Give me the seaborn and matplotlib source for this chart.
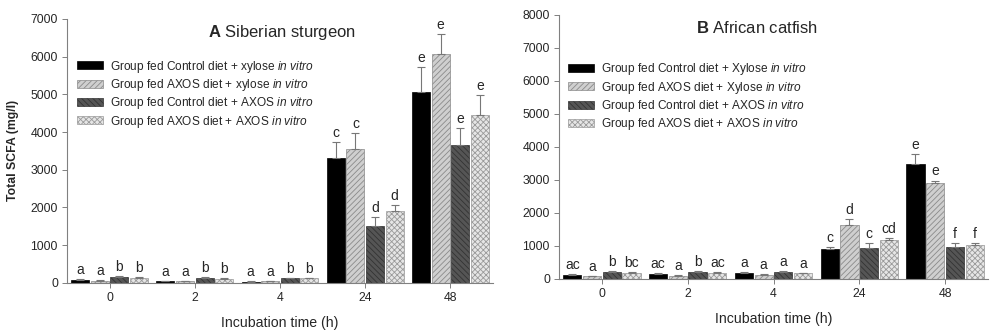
import numpy as np
import pandas as pd
import matplotlib
matplotlib.use('Agg')
import matplotlib.pyplot as plt
import seaborn as sns

sns.set_style("ticks")
plt.rcParams['font.family'] = ['Liberation Sans', 'DejaVu Sans']
plt.rcParams['mathtext.fontset'] = 'custom'
plt.rcParams['mathtext.rm'] = 'Liberation Sans'
plt.rcParams['mathtext.it'] = 'Liberation Sans:italic'
plt.rcParams['mathtext.bf'] = 'Liberation Sans:bold'
plt.rcParams['hatch.linewidth'] = 0.6

# data
times = ['0', '2', '4', '24', '48']

groups_a = ['Group fed Control diet + xylose $\\it{in\\ vitro}$',
            'Group fed AXOS diet + xylose $\\it{in\\ vitro}$',
            'Group fed Control diet + AXOS $\\it{in\\ vitro}$',
            'Group fed AXOS diet + AXOS $\\it{in\\ vitro}$']
groups_b = ['Group fed Control diet + Xylose $\\it{in\\ vitro}$',
            'Group fed AXOS diet + Xylose $\\it{in\\ vitro}$',
            'Group fed Control diet + AXOS $\\it{in\\ vitro}$',
            'Group fed AXOS diet + AXOS $\\it{in\\ vitro}$']

# Siberian sturgeon (per group, values over times)
sturgeon_ctrl_xyl = [80, 50, 30, 3300, 5070]
sturgeon_axos_xyl = [60, 40, 50, 3540, 6070]
sturgeon_ctrl_axos = [160, 130, 120, 1520, 3650]
sturgeon_axos_axos = [130, 110, 120, 1900, 4440]
sturgeon_err = [[15, 10, 10, 440, 650],
                [15, 10, 10, 440, 520],
                [20, 15, 15, 220, 460],
                [20, 15, 15, 170, 550]]
sturgeon_letters = [['a', 'a', 'a', 'c', 'e'],
                    ['a', 'a', 'a', 'c', 'e'],
                    ['b', 'b', 'b', 'd', 'e'],
                    ['b', 'b', 'b', 'd', 'e']]

# African catfish
catfish_ctrl_xyl = [130, 160, 190, 900, 3480]
catfish_axos_xyl = [80, 100, 130, 1640, 2900]
catfish_ctrl_axos = [210, 210, 210, 950, 970]
catfish_axos_axos = [180, 190, 170, 1170, 1020]
catfish_err = [[15, 15, 15, 70, 290],
               [15, 10, 15, 160, 80],
               [15, 15, 15, 140, 120],
               [15, 15, 15, 80, 70]]
catfish_letters = [['ac', 'ac', 'a', 'c', 'e'],
                   ['a', 'a', 'a', 'd', 'e'],
                   ['b', 'b', 'a', 'c', 'f'],
                   ['bc', 'ac', 'a', 'cd', 'f']]

faces = ['#000000', '#cfcfcf', '#555555', '#e6e6e6']
edges = ['#000000', '#8a8a8a', '#333333', '#9a9a9a']
hatches = [None, '//////', '\\\\\\\\\\\\', 'xxxxxx']


def make_df(series, labels):
    rows = []
    for vals, lab in zip(series, labels):
        for t, v in zip(times, vals):
            rows.append({'time': t, 'value': v, 'group': lab})
    return pd.DataFrame(rows)


def draw_panel(ax, df, labels, errs, letters, ymax, title, leg_anchor):
    sns.barplot(data=df, x='time', y='value', hue='group', order=times,
                hue_order=labels, palette=faces, errorbar=None,
                width=0.92, gap=0.08, legend=False, ax=ax)
    bars = list(ax.containers)
    for i, cont in enumerate(bars):
        for j, bar in enumerate(cont):
            bar.set_edgecolor(edges[i])
            bar.set_linewidth(0.5)
            if hatches[i]:
                bar.set_hatch(hatches[i])
            xc = bar.get_x() + bar.get_width() / 2
            h = bar.get_height()
            ax.errorbar(xc, h, yerr=[[0], [errs[i][j]]], fmt='none',
                        ecolor='#777777', elinewidth=0.8, capsize=3,
                        capthick=0.8)
            ax.annotate(letters[i][j], (xc, h + errs[i][j]),
                        xytext=(0, 1.5), textcoords='offset points',
                        ha='center', va='bottom', fontsize=10)
    ax.set_ylim(0, ymax)
    ax.set_xlim(-0.5, 4.5)
    ax.set_yticks(np.arange(0, ymax + 1, 1000))
    ax.tick_params(axis='both', labelsize=8.8, length=3.5, width=0.7,
                   color='#808080', pad=3)
    for s in ['top', 'right']:
        ax.spines[s].set_visible(False)
    for s in ['left', 'bottom']:
        ax.spines[s].set_color('#808080')
        ax.spines[s].set_linewidth(0.8)
    ax.set_xlabel('Incubation time (h)', fontsize=10.2, labelpad=9)
    ax.set_ylabel('')
    ax.text(title[0], title[1], title[2], transform=ax.transAxes,
            ha='center', va='center', fontsize=12)
    ax.legend(bars, labels, loc='upper left',
              bbox_to_anchor=leg_anchor, frameon=False, fontsize=8.6,
              handlelength=2.2, handleheight=0.65, handletextpad=0.6,
              labelspacing=0.2, borderpad=0, borderaxespad=0)


fig = plt.figure(figsize=(10, 3.32), dpi=100)
ax1 = fig.add_axes([0.067, 0.148, 0.426, 0.795])
ax2 = fig.add_axes([0.559, 0.160, 0.429, 0.795])

df_a = make_df([sturgeon_ctrl_xyl, sturgeon_axos_xyl, sturgeon_ctrl_axos,
                sturgeon_axos_axos], groups_a)
df_b = make_df([catfish_ctrl_xyl, catfish_axos_xyl, catfish_ctrl_axos,
                catfish_axos_axos], groups_b)

draw_panel(ax1, df_a, groups_a, sturgeon_err, sturgeon_letters, 7000,
           (0.505, 0.947, '$\\bf{A}$ Siberian sturgeon'), (0.023, 0.85))
draw_panel(ax2, df_b, groups_b, catfish_err, catfish_letters, 8000,
           (0.462, 0.95, '$\\bf{B}$ African catfish'), (0.021, 0.825))
ax1.set_ylabel('Total SCFA (mg/l)', fontsize=8.8, fontweight='bold', labelpad=8)

fig.savefig('out.png', dpi=100)
